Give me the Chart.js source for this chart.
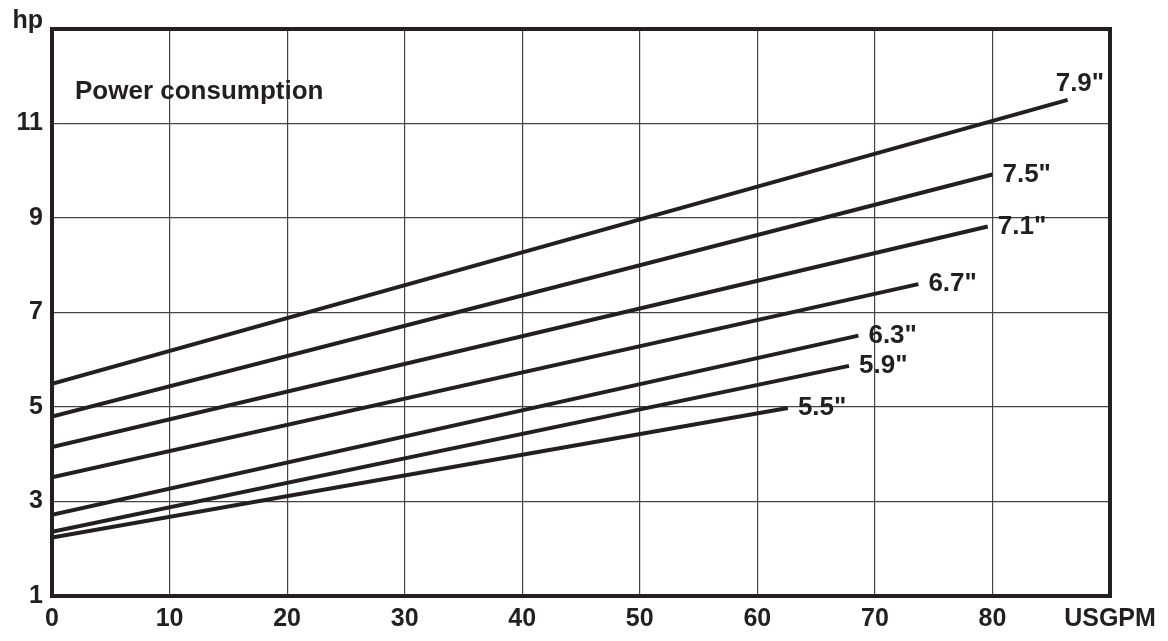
<!DOCTYPE html>
<html>
<head>
<meta charset="utf-8">
<script src="https://cdn.jsdelivr.net/npm/chart.js@4"></script>
<style>
  body { margin: 0; background: #fff; }
  #wrap { width: 1168px; height: 641px; }
</style>
</head>
<body>
<div id="wrap"><canvas id="power"></canvas></div>
<script>
// impeller diameters and their power curves (hp vs USGPM)
const sizes = ['7.9"', '7.5"', '7.1"', '6.7"', '6.3"', '5.9"', '5.5"'];
const startHp = [5.49, 4.80, 4.15, 3.51, 2.72, 2.36, 2.24];
const endGpm = [86.4, 80.0, 79.6, 73.7, 68.6, 67.8, 62.6];
const endHp = [11.5, 9.92, 8.82, 7.60, 6.51, 5.87, 4.98];

const xTicks = [0, 10, 20, 30, 40, 50, 60, 70, 80, 90];
const yTicks = [1, 3, 5, 7, 9, 11, 13];

const font = '"Liberation Sans", Arial, sans-serif';
const ink = '#231f20';

const datasets = sizes.map((s, i) => ({
  label: s,
  data: [{x: 0, y: startHp[i]}, {x: endGpm[i], y: endHp[i]}],
  borderColor: ink,
  borderWidth: 4,
  pointRadius: 0,
  tension: 0
}));

const extras = {
  id: 'extras',
  afterDatasetsDraw(chart) {
    const ctx = chart.ctx;
    const a = chart.chartArea;
    const xs = chart.scales.x, ys = chart.scales.y;
    ctx.save();
    ctx.fillStyle = ink;
    ctx.font = 'bold 26px ' + font;
    ctx.textBaseline = 'middle';
    ctx.textAlign = 'left';
    sizes.forEach((s, i) => {
      const px = xs.getPixelForValue(endGpm[i]);
      const py = ys.getPixelForValue(endHp[i]);
      if (i === 0) ctx.fillText(s, px - 12, py - 16);
      else ctx.fillText(s, px + 10, py);
    });
    ctx.font = 'bold 26px ' + font;
    ctx.fillText('Power consumption', a.left + 23, 92);
    // axis unit on top of the y axis
    ctx.font = 'bold 25px ' + font;
    ctx.textAlign = 'right';
    ctx.fillText('hp', a.left - 9, a.top - 8);
    // frame
    ctx.strokeStyle = ink;
    ctx.lineWidth = 4;
    ctx.strokeRect(a.left, a.top, a.right - a.left, a.bottom - a.top);
    ctx.restore();
  }
};

new Chart(document.getElementById('power'), {
  type: 'line',
  data: {datasets: datasets},
  options: {
    responsive: true,
    maintainAspectRatio: false,
    animation: false,
    layout: {padding: {left: 0, top: 29, right: 58, bottom: 0}},
    plugins: {legend: {display: false}, tooltip: {enabled: false}},
    scales: {
      x: {
        type: 'linear',
        min: 0,
        max: 90,
        afterBuildTicks(scale) { scale.ticks = xTicks.map(v => ({value: v})); },
        afterFit(scale) { scale.height = 45; },
        grid: {color: '#444', lineWidth: 1.2, drawTicks: false},
        border: {display: false},
        ticks: {
          padding: 8,
          color: ink,
          font: {family: font, size: 25, weight: 'bold'},
          maxRotation: 0,
          callback: v => v === 90 ? 'USGPM' : v
        }
      },
      y: {
        type: 'linear',
        min: 1,
        max: 13,
        afterBuildTicks(scale) { scale.ticks = yTicks.map(v => ({value: v})); },
        afterFit(scale) { scale.width = 52; },
        grid: {color: '#444', lineWidth: 1.2, drawTicks: false},
        border: {display: false},
        ticks: {
          padding: 9,
          color: ink,
          font: {family: font, size: 25, weight: 'bold'},
          callback: v => v === 13 ? '' : v
        }
      }
    }
  },
  plugins: [extras]
});
</script>
</body>
</html>
